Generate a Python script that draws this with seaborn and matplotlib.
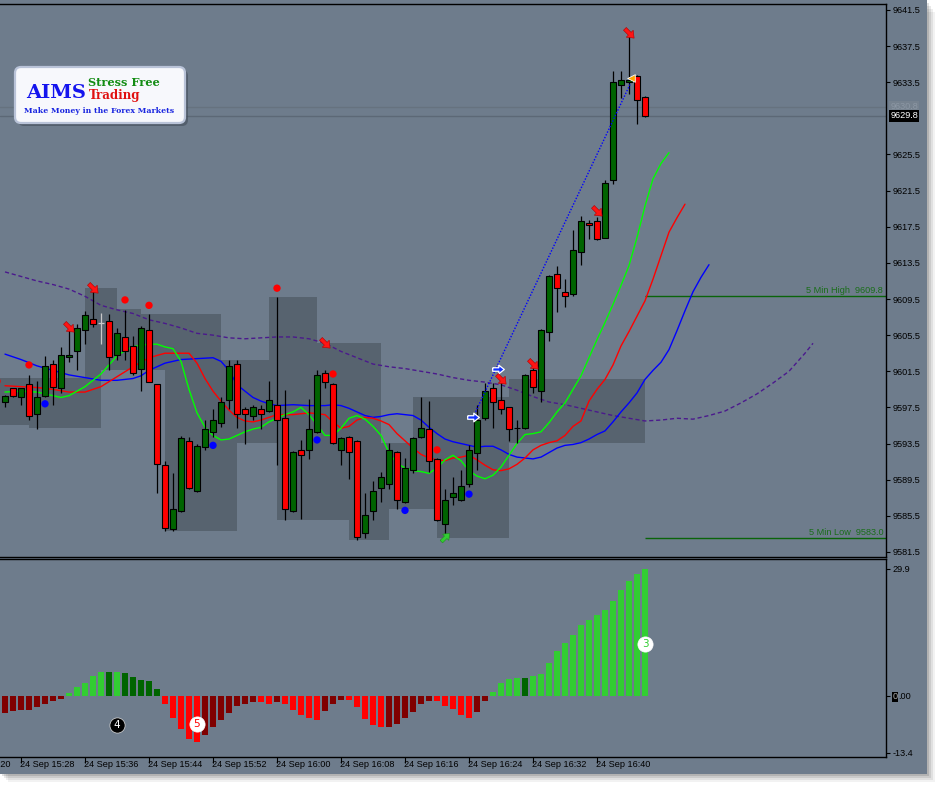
import numpy as np
import pandas as pd
import seaborn as sns
import matplotlib.pyplot as plt
import matplotlib.transforms as mtransforms
from matplotlib.patches import Rectangle, FancyBboxPatch

sns.set_style("ticks")
plt.rcParams['font.family'] = ['Liberation Sans', 'DejaVu Sans']

# ---------------- data (1 minute bars, 15:26 .. 16:46) ----------------
opens = [9598.1, 9599.6, 9598.6, 9600.1, 9596.8, 9598.8, 9602.3, 9599.6, 9603.1, 9603.8,
         9606.1, 9607.3, 9606.8, 9607.1, 9603.3, 9605.3, 9604.3, 9601.8, 9606.1, 9600.1,
         9591.1, 9584.0, 9586.0, 9593.8, 9588.2, 9593.1, 9594.8, 9595.8, 9598.3, 9602.3,
         9597.3, 9596.6, 9597.3, 9597.1, 9597.8, 9596.3, 9586.0, 9592.8, 9592.8, 9594.8,
         9601.3, 9600.1, 9592.8, 9594.2, 9593.8, 9583.6, 9586.0, 9588.6, 9589.0, 9592.6,
         9587.0, 9590.6, 9594.2, 9595.1, 9591.8, 9584.6, 9587.6, 9587.2, 9589.0, 9592.5,
         9596.3, 9599.6, 9598.3, 9597.5, 9595.2, 9595.2, 9601.6, 9599.3, 9605.8, 9612.3,
         9610.3, 9610.1, 9614.7, 9617.9, 9618.1, 9616.3, 9622.7, 9633.2, 9633.5, 9634.2,
         9631.9]
highs = [9598.9, 9599.7, 9599.7, 9601.1, 9600.4, 9603.2, 9602.8, 9604.2, 9606.4, 9606.7,
         9608.2, 9610.4, 9607.9, 9607.8, 9606.3, 9608.3, 9605.4, 9606.5, 9607.8, 9600.1,
         9591.6, 9590.2, 9594.3, 9594.2, 9593.5, 9596.1, 9597.3, 9598.7, 9602.8, 9602.8,
         9597.6, 9597.8, 9597.8, 9600.4, 9609.7, 9599.4, 9592.7, 9593.9, 9598.4, 9601.6,
         9601.6, 9600.2, 9594.2, 9594.3, 9593.9, 9588.0, 9589.3, 9590.3, 9593.6, 9592.7,
         9591.9, 9594.2, 9598.6, 9598.2, 9591.9, 9588.5, 9589.8, 9590.6, 9593.3, 9597.8,
         9600.2, 9600.2, 9600.6, 9597.6, 9596.1, 9601.2, 9602.2, 9606.2, 9612.2, 9613.1,
         9611.7, 9617.1, 9618.7, 9618.3, 9618.6, 9622.7, 9634.7, 9634.7, 9638.9, 9634.3,
         9632.0]
lows = [9597.5, 9598.7, 9597.8, 9596.1, 9595.1, 9598.7, 9597.8, 9599.1, 9602.5, 9601.6,
        9604.5, 9606.4, 9604.5, 9601.6, 9602.7, 9602.7, 9601.1, 9599.3, 9600.3, 9588.0,
        9583.8, 9583.8, 9585.9, 9588.5, 9588.1, 9592.8, 9594.2, 9595.3, 9597.3, 9595.2,
        9593.5, 9596.1, 9595.1, 9597.0, 9591.1, 9585.0, 9585.9, 9585.2, 9591.8, 9594.7,
        9599.6, 9593.5, 9591.1, 9589.6, 9582.8, 9583.0, 9585.0, 9587.0, 9588.5, 9586.2,
        9586.9, 9590.2, 9594.1, 9590.4, 9584.9, 9583.2, 9586.7, 9587.1, 9588.7, 9590.6,
        9596.1, 9595.2, 9596.8, 9593.8, 9593.6, 9595.1, 9599.1, 9598.1, 9604.8, 9608.1,
        9608.6, 9609.8, 9613.3, 9616.1, 9616.0, 9616.2, 9622.2, 9631.7, 9632.2, 9628.9,
        9629.7]
closes = [9598.8, 9598.8, 9599.6, 9596.6, 9598.6, 9602.1, 9599.8, 9603.3, 9603.3, 9606.3,
          9607.7, 9606.7, 9606.8, 9603.1, 9605.7, 9603.8, 9601.3, 9606.3, 9600.3, 9591.2,
          9584.2, 9586.2, 9594.1, 9588.6, 9593.2, 9595.1, 9596.1, 9598.1, 9602.1, 9596.8,
          9596.8, 9597.6, 9596.8, 9598.3, 9596.1, 9586.2, 9592.6, 9592.2, 9595.1, 9601.1,
          9600.3, 9593.6, 9594.1, 9592.6, 9583.2, 9585.6, 9588.2, 9589.8, 9592.8, 9587.2,
          9590.8, 9594.1, 9595.2, 9591.6, 9585.0, 9587.2, 9588.0, 9588.8, 9592.8, 9596.1,
          9599.3, 9598.1, 9597.3, 9595.1, 9595.2, 9601.1, 9599.8, 9606.1, 9612.1, 9610.7,
          9609.8, 9614.9, 9618.1, 9617.7, 9616.1, 9622.3, 9633.5, 9633.7, 9633.7, 9631.5,
          9629.8]
gray_doji = [12]

# alligator style lines (x = bar index, shifted forward)
lips_x = [0, 2, 4, 6, 7, 8, 10, 11, 12, 13, 14, 15, 16, 17, 18, 19, 20, 21, 22, 23, 24, 25, 26,
          27, 28, 29, 30, 31, 32, 33, 34, 35, 36, 37, 38, 39, 40, 41, 42, 43, 44, 45, 46, 47, 48,
          49, 50, 51, 52, 53, 54, 55, 56, 57, 58, 59, 60, 61, 62, 63, 64, 65, 66, 67, 68, 69, 70,
          71, 72, 73, 74, 75, 76, 77, 78, 79, 80, 81, 82, 83]
lips_y = [9599.2, 9599.3, 9599.2, 9598.8, 9598.6, 9598.8, 9599.8, 9600.5, 9601.2, 9602.2, 9603.2,
          9603.8, 9604.2, 9604.4, 9604.5, 9604.5, 9604.2, 9604.0, 9602.6, 9599.5, 9596.9, 9595.3,
          9594.4, 9593.9, 9594.0, 9594.4, 9594.8, 9595.1, 9595.3, 9595.9, 9596.3, 9596.7, 9597.0,
          9597.5, 9596.7, 9595.6, 9594.4, 9594.4, 9595.2, 9596.3, 9596.6, 9596.2, 9595.4, 9594.4,
          9592.5, 9591.3, 9590.8, 9590.5, 9590.4, 9590.2, 9590.8, 9591.7, 9592.2, 9591.6, 9590.5,
          9589.9, 9589.6, 9590.0, 9590.9, 9592.2, 9593.5, 9594.5, 9594.6, 9594.8, 9595.8, 9597.0,
          9598.0, 9599.5, 9601.0, 9603.0, 9605.0, 9606.9, 9608.9, 9611.0, 9613.2, 9616.3, 9619.8,
          9622.8, 9624.5, 9625.7]
teeth_x = [0, 2, 4, 6, 8, 10, 12, 14, 16, 18, 20, 22, 23, 24, 25, 26, 27, 28, 29, 30, 31, 32, 34,
           36, 38, 40, 41, 42, 43, 44, 45, 46, 47, 48, 49, 50, 51, 52, 53, 54, 55, 56, 57, 58, 59,
           60, 61, 62, 63, 64, 65, 66, 67, 68, 69, 70, 71, 72, 73, 74, 75, 76, 77, 78, 79, 80, 81,
           82, 83, 84, 85]
teeth_y = [9599.9, 9599.8, 9599.7, 9599.5, 9599.2, 9599.2, 9599.8, 9600.9, 9602.0, 9603.0, 9603.5,
           9603.5, 9603.5, 9602.4, 9600.7, 9599.3, 9598.2, 9597.2, 9596.4, 9596.0, 9595.9, 9596.1,
           9596.7, 9596.7, 9596.9, 9596.7, 9595.9, 9595.2, 9595.4, 9596.1, 9596.4, 9596.3, 9596.0,
           9595.6, 9594.6, 9593.8, 9593.0, 9592.3, 9591.9, 9591.7, 9591.6, 9591.9, 9592.0, 9592.2,
           9591.7, 9591.1, 9590.6, 9590.5, 9590.7, 9591.2, 9591.9, 9592.8, 9593.3, 9593.6, 9593.8,
           9594.4, 9595.4, 9596.0, 9598.2, 9599.5, 9600.6, 9602.2, 9604.3, 9605.9, 9607.6, 9609.3,
           9611.7, 9614.3, 9616.9, 9618.5, 9620.0]
jaw_x = [0, 2, 4, 6, 8, 10, 12, 14, 16, 17, 18, 19, 20, 22, 24, 26, 27, 28, 29, 30, 31, 32, 33,
         34, 36, 38, 40, 41, 42, 43, 44, 45, 46, 47, 48, 49, 50, 51, 52, 53, 54, 55, 56, 57, 58,
         59, 60, 61, 62, 63, 64, 65, 66, 67, 68, 69, 70, 71, 72, 73, 74, 75, 76, 77, 78, 79, 80,
         81, 82, 83, 84, 85, 86, 87, 88]
jaw_y = [9603.4, 9602.8, 9602.1, 9601.6, 9601.1, 9600.8, 9600.5, 9600.5, 9600.7, 9601.0, 9601.6,
         9602.0, 9602.4, 9602.8, 9602.9, 9603.0, 9602.6, 9601.6, 9600.0, 9599.3, 9598.6, 9598.2,
         9597.9, 9597.7, 9597.8, 9597.7, 9597.7, 9597.8, 9597.7, 9597.4, 9597.0, 9596.6, 9596.4,
         9596.5, 9596.7, 9596.8, 9596.7, 9596.6, 9596.1, 9595.3, 9594.6, 9594.0, 9593.7, 9593.5,
         9593.3, 9593.1, 9593.2, 9593.2, 9592.8, 9592.3, 9592.0, 9591.9, 9591.8, 9592.0, 9592.5,
         9593.0, 9593.3, 9593.4, 9593.6, 9594.0, 9594.5, 9594.9, 9595.9, 9597.0, 9598.0, 9599.1,
         9600.6, 9601.6, 9602.5, 9603.9, 9606.0, 9608.2, 9610.3, 9611.9, 9613.3]
slow_x = [0, 2, 4, 6, 8, 10, 12, 14, 16, 18, 20, 22, 24, 26, 28, 30, 32, 34, 36, 38, 40, 42, 44,
          46, 48, 50, 52, 54, 56, 58, 60, 62, 64, 66, 68, 70, 72, 74, 76, 78, 80, 82, 84, 86, 88,
          90, 92, 94, 96, 98, 100, 101]
slow_y = [9612.5, 9612.0, 9611.5, 9611.1, 9610.6, 9609.8, 9608.8, 9608.3, 9607.9, 9607.2, 9606.8,
          9606.3, 9605.7, 9605.5, 9605.2, 9605.1, 9605.2, 9605.3, 9605.3, 9605.1, 9604.6, 9603.7,
          9603.0, 9602.3, 9602.0, 9601.8, 9601.5, 9601.2, 9600.8, 9600.5, 9600.3, 9600.0, 9599.4,
          9598.7, 9598.1, 9597.8, 9597.4, 9597.0, 9596.6, 9596.3, 9596.0, 9596.1, 9596.3, 9596.2,
          9596.6, 9597.1, 9598.0, 9599.0, 9600.2, 9601.5, 9603.5, 9604.6]

# higher time frame boxes: start bar, end bar, top, bottom
box_start = [-1, 3, 10, 12, 14, 17, 20, 27, 29, 33, 34, 39, 43, 47, 48, 51, 54, 63]
box_end = [3, 10, 12, 14, 17, 20, 27, 29, 33, 34, 39, 43, 47, 48, 51, 54, 63, 80]
box_top = [9600.8, 9600.8, 9610.7, 9610.7, 9608.4, 9607.8, 9607.8, 9602.8, 9602.8, 9609.7, 9609.7,
           9604.6, 9604.6, 9593.6, 9593.6, 9598.6, 9598.6, 9600.6]
box_bot = [9595.6, 9595.2, 9595.2, 9601.6, 9601.6, 9601.6, 9583.8, 9583.8, 9593.6, 9593.6, 9585.0,
           9585.0, 9582.8, 9582.8, 9586.3, 9586.3, 9583.0, 9593.6]

# signals
sell_x = [8, 11, 40, 62, 66, 74, 78]
sell_y = [9606.4, 9610.7, 9604.6, 9600.6, 9602.3, 9619.2, 9638.9]
buy_x = [55]
buy_y = [9583.2]
red_dot_x = [-1, 3, 15, 18, 34, 41, 54]
red_dot_y = [9600.4, 9602.2, 9609.4, 9608.8, 9610.7, 9601.2, 9592.8]
blue_dot_x = [5, 26, 39, 50, 58]
blue_dot_y = [9597.9, 9593.3, 9593.9, 9586.1, 9587.9]
entry_x = [58.5, 61.6]
entry_y = [9596.4, 9601.8]
trend_x = [58.5, 78.2]
trend_y = [9596.4, 9633.4]

five_high = 9609.8
five_low = 9583.0
bid = 9629.8
ask = 9630.8

# oscillator histogram
osc = [-4.0, -3.5, -3.3, -3.3, -2.7, -2.0, -1.3, -0.7, 0.7, 2.1, 3.0, 4.7, 5.7, 5.7, 5.7, 5.4,
       4.5, 3.8, 3.5, 1.6, -2.0, -5.1, -7.7, -10.2, -10.8, -9.1, -7.2, -5.6, -4.0, -2.3, -1.8,
       -1.5, -1.5, -2.0, -1.5, -2.0, -3.3, -4.4, -5.1, -5.6, -3.5, -1.8, -0.9, -0.9, -2.5, -5.4,
       -6.8, -7.2, -7.2, -6.5, -5.1, -3.7, -1.8, -1.1, -1.3, -2.3, -3.0, -4.4, -5.1, -3.7, -1.3,
       0.9, 3.1, 4.0, 4.3, 4.3, 4.7, 5.2, 7.8, 10.6, 12.5, 14.4, 16.7, 17.9, 19.1, 20.2, 22.3,
       24.8, 27.1, 28.7, 29.9]
osc_state = list("MMMMMMMM" "LLLL" "LGLGGGGG" "RRRRR" "MMMMMMM" "RR" "M" "RRRRR" "MMM"
                 "RRRRR" "MMMMMM" "RRRRR" "MM" "LLLL" "G" "LLLLLLLLLLLLLLL")
wave_x = [14, 24, 80]
wave_y = [-6.8, -6.7, 12.2]
wave_lbl = ['4', '5', '3']

time_ticks = [-6, 2, 10, 18, 26, 34, 42, 50, 58, 66, 74]
time_lbls = ['15:20', '15:28', '15:36', '15:44', '15:52', '16:00', '16:08', '16:16',
             '16:24', '16:32', '16:40']
price_ticks = [9641.5, 9637.5, 9633.5, 9625.5, 9621.5, 9617.5, 9613.5, 9609.5, 9605.5,
               9601.5, 9597.5, 9593.5, 9589.5, 9585.5, 9581.5]

# ---------------- drawing ----------------
BG = '#6e7c8c'
BOXC = '#57636f'
W, H = 942, 788
FS = 6.6


def arrow(angle):
    # block arrow marker pointing at `angle` degrees
    pts = np.array([(-1, 0.3), (0.05, 0.3), (0.05, 0.75), (1, 0), (0.05, -0.75),
                    (0.05, -0.3), (-1, -0.3), (-1, 0.3)])
    a = np.deg2rad(angle)
    rot = np.array([[np.cos(a), -np.sin(a)], [np.sin(a), np.cos(a)]])
    return pts @ rot.T


fig = plt.figure(figsize=(W / 100, H / 100), dpi=100)
fig.patch.set_facecolor('white')

# window shadow + window
for i, a in enumerate([0.05, 0.07, 0.09, 0.12]):
    off = 8 - 2 * i
    fig.add_artist(Rectangle((off / W, 1 - (774 + off) / H), 927 / W, (774 - off * 0.5) / H,
                             transform=fig.transFigure, color='black', alpha=a, lw=0, zorder=-3))
fig.add_artist(Rectangle((0, 1 - 774 / H), 927 / W, 774 / H, transform=fig.transFigure,
                         color=BG, lw=0, zorder=-2))

ax = fig.add_axes([0, 1 - 557 / H, 886 / W, 553 / H])
ax2 = fig.add_axes([0, 1 - 757 / H, 886 / W, 198 / H])
for a in (ax, ax2):
    a.set_facecolor(BG)
    a.set_xlim(-0.625, 110.125)
    for s in ['top', 'right', 'bottom']:
        a.spines[s].set_color('black')
        a.spines[s].set_linewidth(1)
    a.spines['left'].set_visible(False)

ax.set_ylim(9580.94, 9642.16)
ax2.set_ylim(-14.35, 32.2)

# boxes
for s, e, t, b in zip(box_start, box_end, box_top, box_bot):
    ax.add_patch(Rectangle((s, b), e - s, t - b, color=BOXC, lw=0, zorder=1))

# bid / ask lines
ax.axhline(ask, color='#66727f', lw=1, zorder=1.5)
ax.axhline(bid, color='#5c6876', lw=1, zorder=1.5)

# 5 min high / low
ax.hlines([five_high, five_low], 80, 110.125, color='#0a640a', lw=1, zorder=2)
blend = mtransforms.blended_transform_factory(ax.transAxes, ax.transData)
ax.annotate(f'5 Min High  {five_high:.1f}', xy=(1, five_high), xycoords=blend, xytext=(-2, 1),
            textcoords='offset points', ha='right', va='bottom', color='#1a6e1a', fontsize=FS)
ax.annotate(f'5 Min Low  {five_low:.1f}', xy=(1, five_low), xycoords=blend, xytext=(-2, 1),
            textcoords='offset points', ha='right', va='bottom', color='#1a6e1a', fontsize=FS)

# moving averages
sns.lineplot(x=slow_x, y=slow_y, ax=ax, color='#4b1a8c', lw=1, linestyle=(0, (3, 2)), zorder=2.5)
sns.lineplot(x=jaw_x, y=jaw_y, ax=ax, color='#0000ff', lw=1, zorder=2.6)
sns.lineplot(x=teeth_x, y=teeth_y, ax=ax, color='#ff0000', lw=1, zorder=2.7)
sns.lineplot(x=lips_x, y=lips_y, ax=ax, color='#00ff00', lw=1, zorder=2.8)

# candles
bars = np.arange(len(opens))
o = np.array(opens); c = np.array(closes)
wick_col = ['#c8c8c8' if k in gray_doji else 'black' for k in bars]
ax.vlines(bars, lows, highs, colors=wick_col, lw=0.9, zorder=3)
body_col = ['#006400' if cc >= oo else '#ff0000' for oo, cc in zip(o, c)]
mask = np.array([k not in gray_doji for k in bars])
ax.bar(bars[mask], np.abs(c - o)[mask], bottom=np.minimum(o, c)[mask], width=0.66,
       color=np.array(body_col)[mask], edgecolor='black', lw=0.8, zorder=4)
for k in gray_doji:
    ax.hlines(opens[k], k - 0.35, k + 0.35, color='#c8c8c8', lw=0.9, zorder=4)

# trend line and signals
ax.plot(trend_x, trend_y, color='#0000ff', lw=1, linestyle=(0, (1, 1.2)), zorder=5)
sns.scatterplot(x=red_dot_x, y=red_dot_y, ax=ax, color='#ff0000', s=28, edgecolor='none', zorder=6)
sns.scatterplot(x=blue_dot_x, y=blue_dot_y, ax=ax, color='#0000ff', s=28, edgecolor='none', zorder=6)
ax.scatter(entry_x, entry_y, marker=arrow(0), s=70, color='#1030ff', edgecolor='white',
           lw=0.9, zorder=6)
ax.scatter([78.3], [9634.0], marker='<', s=30, color='#ffa500', edgecolor='white', lw=0.6, zorder=6)
ax.scatter(sell_x, sell_y, marker=arrow(-45), s=75, color='#ff1414', edgecolor='#b00000',
           lw=0.4, zorder=7)
ax.scatter(buy_x, buy_y, marker=arrow(45), s=60, color='#32cd32', edgecolor='#1f8f1f',
           lw=0.4, zorder=7)

# price axis
ax.set_xticks([])
ax.yaxis.tick_right()
ax.set_yticks(price_ticks)
ax.set_yticklabels([f'{p:.1f}' for p in price_ticks])
ax.tick_params(axis='y', direction='out', length=3, width=0.8, colors='black',
               labelsize=FS, pad=2)
ax.annotate(f'{ask:.1f}', xy=(1, ask), xycoords=blend, xytext=(3, 0), textcoords='offset points',
            ha='left', va='center', fontsize=FS, color='#8c97a4',
            bbox=dict(facecolor='#76828f', edgecolor='none', pad=1.0), annotation_clip=False)
ax.annotate(f'{bid:.1f}', xy=(1, bid), xycoords=blend, xytext=(3, 0), textcoords='offset points',
            ha='left', va='center', fontsize=FS, color='white',
            bbox=dict(facecolor='black', edgecolor='none', pad=1.0), annotation_clip=False)

# oscillator
cmap = {'L': '#32cd32', 'G': '#006400', 'R': '#ff0000', 'M': '#800000'}
ax2.bar(np.arange(len(osc)), osc, width=0.64, color=[cmap[s] for s in osc_state], lw=0, zorder=3)
wave_face = ['black', 'white', 'white']
wave_txt = ['white', '#ff0000', '#32cd32']
for x, y, t, fc, tc in zip(wave_x, wave_y, wave_lbl, wave_face, wave_txt):
    ax2.scatter([x], [y], s=120, color=fc, edgecolor='#dddddd' if fc == 'black' else 'white',
                lw=0.5, zorder=5)
    ax2.text(x, y, t, color=tc, fontsize=7.5, ha='center', va='center', zorder=6,
             family='DejaVu Sans')
ax2.yaxis.tick_right()
ax2.set_yticks([29.9, 0, -13.4])
ax2.set_yticklabels(['29.9', '', '-13.4'])
ax2.tick_params(axis='y', direction='out', length=3, width=0.8, colors='black',
                labelsize=FS, pad=2)
blend_o = mtransforms.blended_transform_factory(ax2.transAxes, ax2.transData)
zero_lbl = ax2.annotate('0', xy=(1, 0), xycoords=blend_o, xytext=(4.5, 0),
                        textcoords='offset points', ha='left', va='center_baseline',
                        fontsize=FS, color='#b0b0b0',
                        bbox=dict(facecolor='black', edgecolor='none', pad=0.4),
                        annotation_clip=False)
ax2.annotate('.00', xy=(1, 0.5), xycoords=zero_lbl, xytext=(0.6, 0),
             textcoords='offset points', ha='left', va='center', fontsize=FS,
             color='black', annotation_clip=False)
ax2.set_xticks([t for t in time_ticks if t > -0.6])
ax2.set_xticklabels([])
ax2.tick_params(axis='x', direction='out', length=4, width=0.8, colors='black')
blend2 = mtransforms.blended_transform_factory(ax2.transData, ax2.transAxes)
for t, lbl in zip(time_ticks, time_lbls):
    ax2.annotate(f'24 Sep {lbl}', xy=(t, 0), xycoords=blend2, xytext=(-0.5, -2.5),
                 textcoords='offset points', ha='left', va='top', fontsize=FS,
                 color='black', annotation_clip=False)

# logo
tr = fig.dpi_scale_trans
fig.add_artist(FancyBboxPatch((0.18, (788 - 126) / 100), 1.70, 0.56,
                              boxstyle='round,pad=0,rounding_size=0.06', transform=tr,
                              facecolor='#3e4854', edgecolor='none', alpha=0.55, zorder=8))
fig.add_artist(FancyBboxPatch((0.15, (788 - 123) / 100), 1.70, 0.56,
                              boxstyle='round,pad=0,rounding_size=0.06', transform=tr,
                              facecolor='#f7f8fc', edgecolor='#b9c3d8', lw=1.6, zorder=9))
serif = dict(family='DejaVu Serif', fontweight='bold', transform=tr, zorder=10,
             va='baseline', ha='left')
fig.text(0.265, (788 - 97.5) / 100, 'AIMS', fontsize=14, color='#1414ee', **serif)
fig.text(0.885, (788 - 86) / 100, 'Stress Free', fontsize=8.2, color='#138c13', **serif)
fig.text(0.885, (788 - 98.5) / 100, 'Trading', fontsize=8.6, color='#e01010', **serif)
fig.text(0.24, (788 - 113) / 100, 'Make Money in the Forex Markets', fontsize=5.6,
         color='#1a26e0', **serif)

fig.savefig('out.png', dpi=100, facecolor=fig.get_facecolor())
